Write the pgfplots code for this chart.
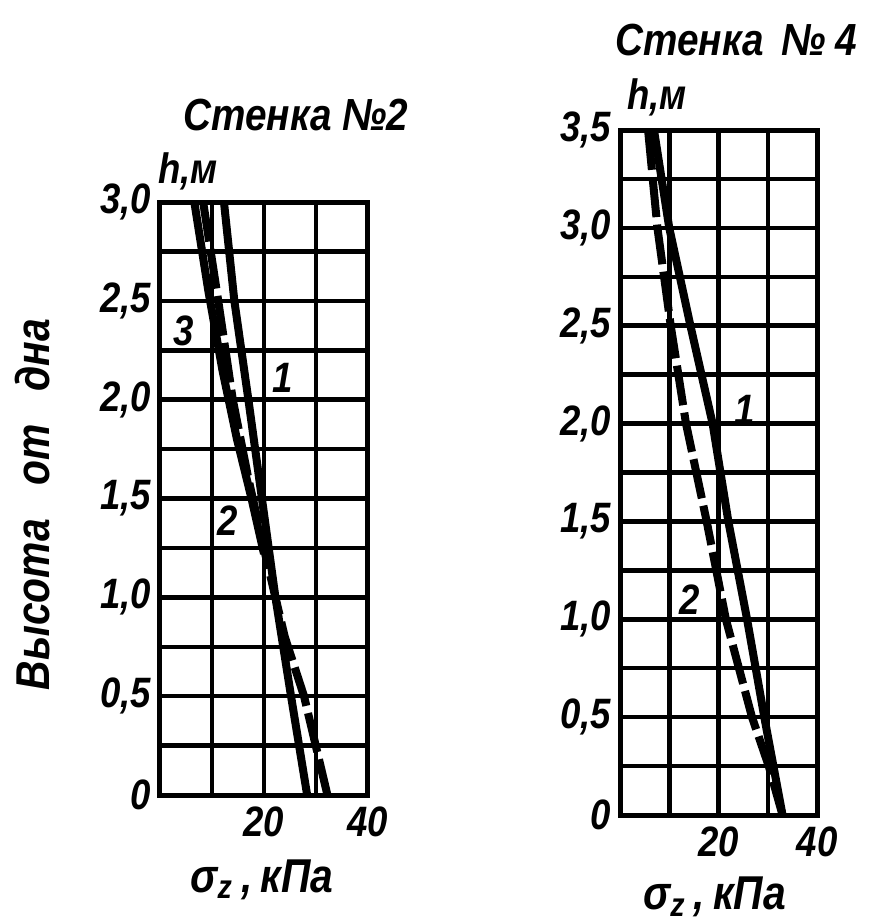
\documentclass[border=0pt]{standalone}
\usepackage{pgfplots}
\pgfplotsset{compat=1.18}
\usepackage{fontspec}
\setmainfont{Liberation Sans}[FakeStretch=0.86]

\tikzset{
  num/.style={font=\fontsize{17}{20}\selectfont\bfseries\itshape},
  ttl/.style={font=\fontsize{18}{21}\selectfont\bfseries\itshape},
}
\pgfplotsset{
  wall/.style={
    scale only axis,
    xmin=0, xmax=40, ymin=0,
    axis line style={line width=2pt},
    grid=both,
    major grid style={line width=1.8pt, black},
    minor grid style={line width=1.8pt, black},
    xtick={0,10,20,30,40},
    xticklabels={,,\textit{20},,\textit{40}},
    major tick length=0pt, minor tick length=0pt,
    tick style={draw=none},
    ticklabel style={font=\fontsize{17}{20}\selectfont\bfseries\itshape},
    xticklabel style={yshift=-1pt},
    clip=false,
  },
  cs/.style={black, line width=3.2pt, line join=round},
  cd/.style={black, line width=3.2pt, dash pattern=on 16pt off 3pt},
}

\begin{document}
\begin{tikzpicture}
\path[use as bounding box] (0,0) rectangle (350.4pt,-369.6pt);
% ---------- Стенка №2
\begin{axis}[wall,
  at={(64pt,-318pt)}, anchor=south west,
  width=83.2pt, height=237.2pt,
  ymax=3,
  ytick={0,0.5,1,1.5,2,2.5,3},
  minor ytick={0.25,0.75,1.25,1.75,2.25,2.75},
  yticklabels={\textit{0},\textit{0,5},\textit{1,0},\textit{1,5},\textit{2,0},\textit{2,5},\textit{3,0}},
  ylabel={Высота\hspace{0.7em}от\hspace{0.7em}дна},
  ylabel style={at={(axis description cs:-0.615,0.49)}, anchor=center,
    font=\fontsize{19}{22}\selectfont\bfseries\itshape},
  xlabel={σ\textsubscript{z}\,,\,кПа},
  xlabel style={at={(axis description cs:0.49,-0.143)}, anchor=center,
    font=\fontsize{19}{22}\selectfont\bfseries\itshape},
]
\addplot[cs] coordinates {(12.3,3.0) (14.3,2.5) (17.0,2.0) (19.6,1.5) (22.2,1.0) (25.2,0.5) (28.3,0)};
\addplot[cd] coordinates {(8.3,3.0) (11.2,2.5) (14.0,2.0) (17.0,1.6) (20.4,1.2) (24.0,0.8) (27.7,0.5) (32.2,0)};
\addplot[cs] coordinates {(6.6,3.0) (9.3,2.55) (12.0,2.15) (14.8,1.8) (17.6,1.5) (20.0,1.22)};
\node[num] at (axis cs:23.5,2.11) {1};
\node[num] at (axis cs:13.1,1.39) {2};
\node[num] at (axis cs:4.6,2.35) {3};
\node[ttl] at (axis description cs:0.654,1.147) {Стенка №2};
\node[num] at (axis description cs:0.135,1.051) {h,м};
\end{axis}
% ---------- Стенка №4
\begin{axis}[wall,
  at={(248pt,-326pt)}, anchor=south west,
  width=78.8pt, height=274pt,
  ymax=3.5,
  ytick={0,0.5,1,1.5,2,2.5,3,3.5},
  minor ytick={0.25,0.75,1.25,1.75,2.25,2.75,3.25},
  yticklabels={\textit{0},\textit{0,5},\textit{1,0},\textit{1,5},\textit{2,0},\textit{2,5},\textit{3,0},\textit{3,5}},
  xlabel={σ\textsubscript{z}\,,\,кПа},
  xlabel style={at={(axis description cs:0.48,-0.12)}, anchor=center,
    font=\fontsize{19}{22}\selectfont\bfseries\itshape},
]
\addplot[cs] coordinates {(6.9,3.5) (10.0,3.0) (14.3,2.5) (18.8,2.0) (22.0,1.5) (25.8,1.0) (29.3,0.5) (33.0,0)};
\addplot[cd] coordinates {(5.7,3.5) (7.6,3.0) (10.3,2.5) (13.4,2.0) (17.6,1.5) (21.5,1.0) (26.8,0.5) (30.2,0.25) (33.0,0)};
\node[num] at (axis cs:25.4,2.07) {1};
\node[num] at (axis cs:14.2,1.10) {2};
\node[ttl] at (axis description cs:0.589,1.131) {Стенка\hspace{0.4em}№\hspace{0.2em}4};
\node[num] at (axis description cs:0.188,1.048) {h,м};
\end{axis}
\end{tikzpicture}
\end{document}
